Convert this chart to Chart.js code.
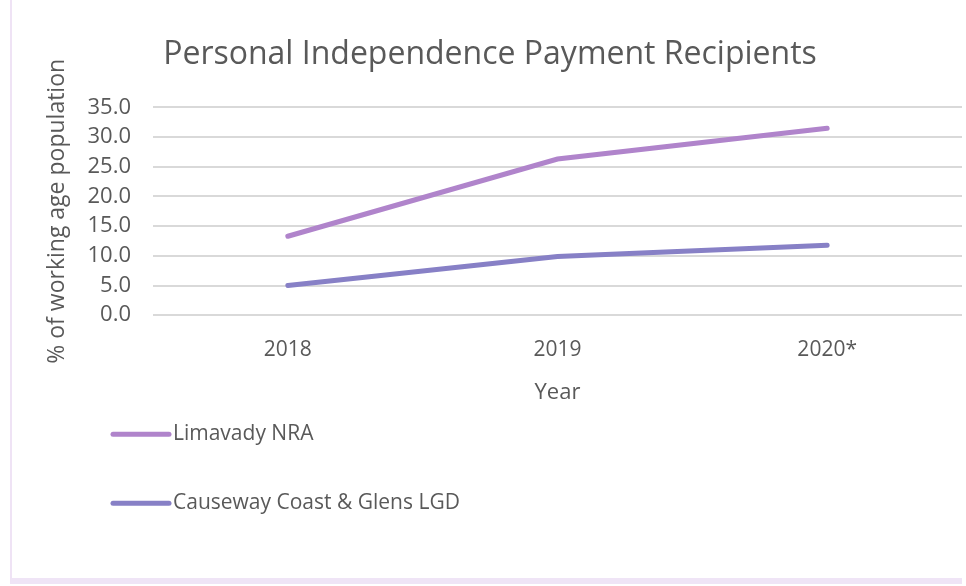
<!DOCTYPE html>
<html>
<head>
<meta charset="utf-8">
<script src="https://cdn.jsdelivr.net/npm/chart.js@4/dist/chart.umd.min.js"></script>
<style>
  html, body { margin: 0; padding: 0; background: #fff; }
  #wrap {
    position: absolute; left: 10px; top: 0; width: 950px; height: 578px;
    border-left: 2px solid #efe3f5; border-bottom: 6px solid #efe4f6;
    box-sizing: content-box;
  }
  canvas { display: block; }
</style>
</head>
<body>
<div id="wrap"><canvas id="myChart" width="950" height="578"></canvas></div>
<script>
// chart data
const years = ['2018', '2019', '2020*'];
const limavady = [13.3, 26.3, 31.5];
const causeway = [5.0, 9.9, 11.8];
const seriesNames = ['Limavady NRA', 'Causeway Coast & Glens LGD'];

const textColor = '#595959';
const fontFamily = "'Open Sans', sans-serif";

// legend drawn under the plot, one entry per line like the Excel original
const bottomLegend = {
    id: 'bottomLegend',
    afterDraw: function (chart) {
        const c = chart.ctx;
        const area = chart.chartArea;
        const rows = [119, 188];
        c.save();
        chart.data.datasets.forEach((ds, i) => {
            const y = area.bottom + rows[i];
            const x0 = area.left - 40;
            c.strokeStyle = ds.borderColor;
            c.lineWidth = 5;
            c.lineCap = 'round';
            c.beginPath();
            c.moveTo(x0, y);
            c.lineTo(x0 + 56, y);
            c.stroke();
            c.fillStyle = textColor;
            c.font = '21px ' + fontFamily;
            c.textBaseline = 'middle';
            c.textAlign = 'left';
            c.fillText(ds.label, x0 + 60, y);
        });
        c.restore();
    }
};

const ctx = document.getElementById('myChart').getContext('2d');
const myChart = new Chart(ctx, {
    type: 'line',
    data: {
        labels: years,
        datasets: [{
            label: seriesNames[0],
            data: limavady,
            borderColor: '#b084cb',
            borderWidth: 5,
            borderCapStyle: 'round',
            pointRadius: 0,
            tension: 0
        }, {
            label: seriesNames[1],
            data: causeway,
            borderColor: '#8780c6',
            borderWidth: 5,
            borderCapStyle: 'round',
            pointRadius: 0,
            tension: 0
        }]
    },
    options: {
        responsive: false,
        animation: false,
        layout: {
            padding: { left: 6, right: 0, top: 36, bottom: 172 }
        },
        plugins: {
            legend: { display: false },
            tooltip: { enabled: false },
            title: {
                display: true,
                text: 'Personal Independence Payment Recipients',
                color: textColor,
                font: { family: fontFamily, size: 32, weight: 'normal' },
                padding: { top: 0, bottom: 33 }
            }
        },
        scales: {
            x: {
                offset: true,
                grid: { display: false, drawTicks: false },
                border: { display: false },
                ticks: {
                    color: textColor,
                    font: { family: fontFamily, size: 21 },
                    padding: 22
                },
                title: {
                    display: true,
                    text: 'Year',
                    color: textColor,
                    font: { family: fontFamily, size: 22, lineHeight: 0.8 },
                    padding: { top: 0, bottom: 4 }
                }
            },
            y: {
                min: 0,
                max: 35,
                afterFit: function (scale) { scale.width = 135; },
                grid: { color: '#d9d9d9', lineWidth: 2, drawTicks: false },
                border: { display: false },
                ticks: {
                    stepSize: 5,
                    autoSkip: false,
                    color: textColor,
                    font: { family: fontFamily, size: 22 },
                    padding: 22,
                    callback: function (v) { return v.toFixed(1); }
                },
                title: {
                    display: true,
                    text: '% of working age population',
                    color: textColor,
                    font: { family: fontFamily, size: 23 },
                    padding: { top: 26, bottom: 0 }
                }
            }
        }
    },
    plugins: [bottomLegend]
});
</script>
</body>
</html>
